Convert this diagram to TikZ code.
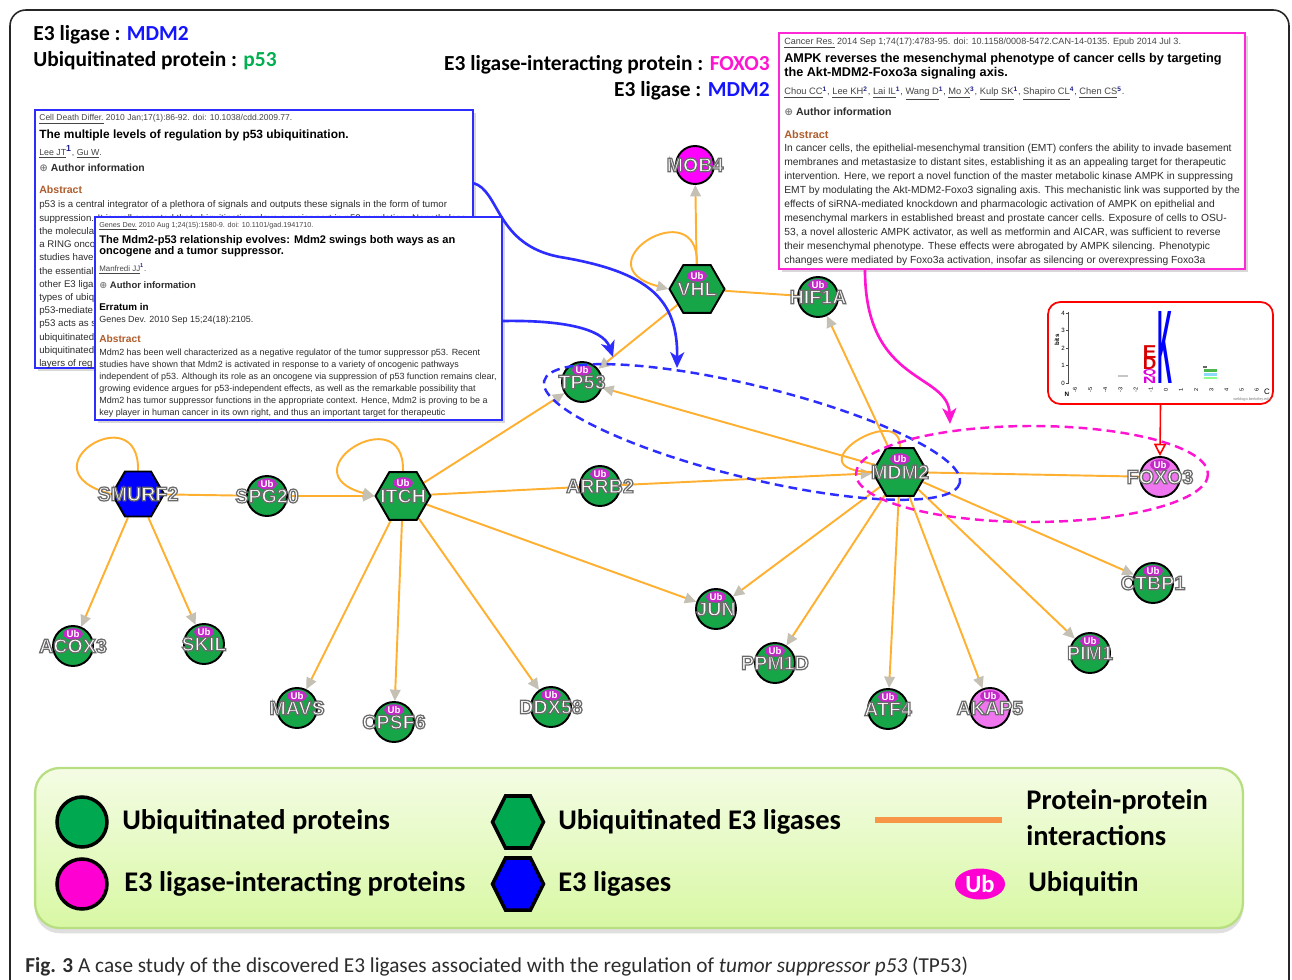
\documentclass[tikz,border=0pt]{standalone}
\usepackage{fontspec}
\setmainfont{Liberation Sans}
\newfontfamily\calfont{Carlito}
\newfontfamily\dvfont{DejaVu Sans}
\usetikzlibrary{shapes.geometric,arrows.meta,shadows,calc}
\definecolor{edgeor}{RGB}{255,176,48}
\definecolor{ngreen}{RGB}{22,166,72}
\definecolor{nmag}{RGB}{255,0,255}
\definecolor{npink}{RGB}{240,118,240}
\definecolor{nblue}{RGB}{0,0,255}
\definecolor{ubmag}{RGB}{196,40,200}
\definecolor{arrgray}{RGB}{196,192,180}
\definecolor{boxblue}{RGB}{45,45,255}
\definecolor{boxmag}{RGB}{255,40,215}
\definecolor{absbrown}{RGB}{176,92,44}
\definecolor{txtgray}{RGB}{45,45,45}
\definecolor{citegray}{RGB}{70,70,70}
\definecolor{supblue}{RGB}{30,30,140}
\definecolor{hblue}{RGB}{20,20,255}
\definecolor{hgreen}{RGB}{0,176,80}
\definecolor{hmag}{RGB}{255,20,210}
\definecolor{lggreen}{RGB}{0,168,80}
\definecolor{lgmag}{RGB}{255,0,210}
\definecolor{lgline}{RGB}{247,150,70}
\definecolor{lgtop}{RGB}{244,252,228}
\definecolor{lgbot}{RGB}{216,248,164}
\definecolor{lgborder}{RGB}{184,222,130}
\definecolor{capgray}{RGB}{45,45,45}
\definecolor{logored}{RGB}{215,0,0}
\definecolor{logomag}{RGB}{220,0,220}
\newcommand{\olab}[1]{\special{pdf:literal direct 2 Tr 0.7 w 0.42 0.42 0.42 RG}#1\special{pdf:literal direct 0 Tr}}
\newcommand{\supn}[1]{\textsuperscript{\textcolor{supblue}{\bfseries #1}}}
\newcommand{\plusicon}{{\dvfont\textcolor{gray}{⊕}}}
\newcommand{\logolet}[3]{\hbox{\textcolor{#1}{\resizebox*{7.7pt}{#2}{\bfseries #3}}}}
\pgfdeclarelayer{background}
\pgfdeclarelayer{front}
\pgfsetlayers{background,main,front}
\begin{document}
\begin{tikzpicture}[x=0.02cm,y=-0.02cm,
  ppi/.style={draw=edgeor,line width=1.1pt},
  ppa/.style={ppi,-{Triangle[length=6.5pt,width=6pt,color=arrgray]}},
  protc/.style={circle,draw=black,line width=1.1pt,minimum size=0.8cm,inner sep=0pt,fill=ngreen},
  hexn/.style={regular polygon,regular polygon sides=6,draw=black,line width=1.1pt,minimum size=1.1cm,inner sep=0pt,fill=ngreen},
  lab/.style={font=\fontsize{11.2}{11}\selectfont\bfseries,text=white,inner sep=0pt},
  ubb/.style={ellipse,fill=ubmag,inner sep=0.3pt,minimum width=0.34cm,minimum height=0.22cm,font=\fontsize{5.5}{5.5}\selectfont\bfseries,text=white},
  absbox/.style={draw,line width=1.1pt,fill=white,inner sep=0pt,drop shadow={opacity=0.3,shadow xshift=1.6pt,shadow yshift=-1.6pt}},
  tx/.style={anchor=base west,inner sep=0pt,text=txtgray},
  hdr/.style={font=\calfont\bfseries\fontsize{12.2}{14}\selectfont,inner sep=0pt,text=black},
  lgtxt/.style={font=\calfont\bfseries\fontsize{16.2}{19}\selectfont,anchor=west,inner sep=0pt,text=black},
  lgshape/.style={draw=black,line width=2pt}
]
\useasboundingbox (0,0) rectangle (1292,980);
\begin{pgfonlayer}{background}
\fill[white] (0,0) rectangle (1292,980);
\end{pgfonlayer}
% outer frame
\draw[line width=0.9pt,black!85,rounded corners=9pt] (10,995) -- (10,10) -- (1289,10) -- (1289,995);

% headers
\node[hdr,anchor=west] (h1) at (33,35) {E3 ligase : \textcolor{hblue}{MDM2}};
\node[hdr,anchor=west] (h2) at (33,61) {Ubiquitinated protein : \textcolor{hgreen}{p53}};
\node[hdr,anchor=east] (h3) at (770,65) {E3 ligase-interacting protein : \textcolor{hmag}{FOXO3}};
\node[hdr,anchor=east] (h4) at (770,91) {E3 ligase : \textcolor{hblue}{MDM2}};

% network nodes
\node[protc] (TP53) at (582,382) {};
\node[protc] (HIF1A) at (818,297) {};
\node[protc] (SPG20) at (267,496) {};
\node[protc] (ARRB2) at (600,486) {};
\node[protc] (JUN) at (716,609) {};
\node[protc,fill=npink] (FOXO3) at (1160,477) {};
\node[protc] (CTBP1) at (1153,583) {};
\node[protc] (PIM1) at (1090,653) {};
\node[protc,fill=npink] (AKAP5) at (990,708) {};
\node[protc] (ATF4) at (888,709) {};
\node[protc] (PPM1D) at (775,663) {};
\node[protc] (DDX58) at (551,707) {};
\node[protc] (CPSF6) at (394,722) {};
\node[protc] (MAVS) at (297,708) {};
\node[protc] (SKIL) at (204,644) {};
\node[protc] (ACOX3) at (73,646) {};
\node[protc,fill=nmag,minimum size=0.76cm] (MOB4) at (695,165) {};
\node[hexn] (VHL) at (697,289) {};
\node[hexn] (ITCH) at (403,496) {};
\node[hexn] (MDM2) at (900,472) {};
\node[hexn,fill=nblue,minimum size=1.04cm] (SMURF2) at (138,494) {};

\foreach \n in {TP53,HIF1A,SPG20,ARRB2,JUN,FOXO3,CTBP1,PIM1,AKAP5,ATF4,PPM1D,DDX58,CPSF6,MAVS,SKIL,ACOX3}
  \node[ubb] (ub\n) at ($(\n)+(0,-12)$) {Ub};
\foreach \n in {VHL,ITCH,MDM2}
  \node[ubb] (ub\n) at ($(\n)+(0,-13)$) {Ub};

% interactions
\begin{pgfonlayer}{background}
\draw[ppi] (SMURF2) -- (SPG20);
\draw[ppa] (SPG20) -- (ITCH);
\draw[ppa] (SMURF2) -- (ACOX3);
\draw[ppa] (SMURF2) -- (SKIL);
\draw[ppi] (SMURF2.north) .. controls (140,395) and (20,470) .. (SMURF2.west);
\draw[ppa] (ITCH.north) .. controls (405,397) and (285,472) .. (ITCH.west);
\draw[ppa] (ITCH) -- (MAVS);
\draw[ppa] (ITCH) -- (CPSF6);
\draw[ppa] (ITCH) -- (DDX58);
\draw[ppa] (ITCH) -- (JUN);
\draw[ppa] (ITCH) -- (TP53);
\draw[ppi] (ITCH) -- (ARRB2);
\draw[ppa] (ARRB2) -- (MDM2);
\draw[ppa] (VHL.north) .. controls (699,190) and (579,265) .. (VHL.west);
\draw[ppa] (VHL) -- (MOB4);
\draw[ppa] (VHL) -- (TP53);
\draw[ppi] (VHL) -- (HIF1A);
\draw[ppa] (MDM2) -- (HIF1A);
\draw[ppa] (MDM2) -- (TP53);
\draw[ppi] (MDM2.north) .. controls (902,400) and (790,470) .. (MDM2.west);
\draw[ppi] (MDM2) -- (FOXO3);
\draw[ppa] (MDM2) -- (JUN);
\draw[ppa] (MDM2) -- (PPM1D);
\draw[ppa] (MDM2) -- (ATF4);
\draw[ppa] (MDM2) -- (AKAP5);
\draw[ppa] (MDM2) -- (PIM1);
\draw[ppa] (MDM2) -- (CTBP1);
\end{pgfonlayer}

% node labels
\begin{pgfonlayer}{front}
\foreach \n in {TP53,HIF1A,SPG20,ARRB2,JUN,FOXO3,CTBP1,PIM1,AKAP5,ATF4,PPM1D,DDX58,CPSF6,MAVS,SKIL,ACOX3,MOB4,VHL,ITCH,MDM2,SMURF2}
  \node[lab] (lb\n) at (\n) {\olab{\n}};
\end{pgfonlayer}

% dashed groupings
\coordinate (bec) at (752,432);
\draw[boxblue,line width=1.4pt,dash pattern=on 5pt off 3pt,rotate around={-13.8:(bec)}] (bec) ellipse [x radius=214,y radius=46];
\coordinate (mec) at (1032,474);
\draw[hmag,line width=1.4pt,dash pattern=on 5pt off 3pt] (mec) ellipse [x radius=176,y radius=48];

% ---------- abstract box 1 ----------
\node[absbox,draw=boxblue,minimum width=8.76cm,minimum height=5.16cm] (box1) at (254,239) {};
\node[tx,text=citegray,font=\fontsize{4.85}{5}\selectfont] (b1c) at (39,121) {\underline{Cell Death Differ.} 2010 Jan;17(1):86-92. doi: 10.1038/cdd.2009.77.};
\node[tx,text=black,font=\fontsize{6.8}{7}\selectfont\bfseries] (b1t) at (39,138) {The multiple levels of regulation by p53 ubiquitination.};
\node[tx,text=citegray,font=\fontsize{5}{5}\selectfont] (b1a) at (39,155) {\underline{Lee JT}\supn{1}, \underline{Gu W}.};
\node[tx,font=\fontsize{5.9}{6}\selectfont\bfseries] (b1i) at (39,172) {\plusicon{} Author information};
\node[tx,text=absbrown,font=\fontsize{6}{6}\selectfont\bfseries] (b1ab) at (39,194) {Abstract};
\foreach \t [count=\i from 0] in {{p53 is a central integrator of a plethora of signals and outputs these signals in the form of tumor},{suppression. It is well accepted that ubiquitination plays a major part in p53 regulation. Nonetheless,},{the molecula},{a RING onco},{studies have},{the essential},{other E3 liga},{types of ubiq},{p53-mediate},{p53 acts as s},{ubiquitinated},{ubiquitinated},{layers of reg}}
  \node[tx,font=\fontsize{5.5}{6}\selectfont] (b1l\i) at (39,{208+13.2*\i}) {\t};

% ---------- abstract box 2 ----------
\node[absbox,draw=boxblue,minimum width=8.14cm,minimum height=4.06cm] (box2) at (298.5,318.5) {};
\node[tx,text=citegray,font=\fontsize{4.1}{5}\selectfont] (b2c) at (99,227) {\underline{Genes Dev.} 2010 Aug 1;24(15):1580-9. doi: 10.1101/gad.1941710.};
\node[tx,text=black,font=\fontsize{6.3}{7}\selectfont\bfseries] (b2t1) at (99,243) {The Mdm2-p53 relationship evolves: Mdm2 swings both ways as an};
\node[tx,text=black,font=\fontsize{6.3}{7}\selectfont\bfseries] (b2t2) at (99,255) {oncogene and a tumor suppressor.};
\node[tx,text=citegray,font=\fontsize{4.5}{5}\selectfont] (b2a) at (99,271) {\underline{Manfredi JJ}\supn{1}.};
\node[tx,font=\fontsize{5.4}{6}\selectfont\bfseries] (b2i) at (99,288) {\plusicon{} Author information};
\node[tx,text=black,font=\fontsize{5.6}{6}\selectfont\bfseries] (b2e) at (99,310) {Erratum in};
\node[tx,font=\fontsize{5.1}{6}\selectfont] (b2g) at (99,322) {Genes Dev. 2010 Sep 15;24(18):2105.};
\node[tx,text=absbrown,font=\fontsize{5.8}{6}\selectfont\bfseries] (b2ab) at (99,342) {Abstract};
\foreach \t [count=\i from 0] in {{Mdm2 has been well characterized as a negative regulator of the tumor suppressor p53. Recent},{studies have shown that Mdm2 is activated in response to a variety of oncogenic pathways},{independent of p53. Although its role as an oncogene via suppression of p53 function remains clear,},{growing evidence argues for p53-independent effects, as well as the remarkable possibility that},{Mdm2 has tumor suppressor functions in the appropriate context. Hence, Mdm2 is proving to be a},{key player in human cancer in its own right, and thus an important target for therapeutic}}
  \node[tx,font=\fontsize{5.1}{6}\selectfont] (b2l\i) at (99,{355+12*\i}) {\t};

% ---------- abstract box 3 ----------
\node[absbox,draw=boxmag,minimum width=9.32cm,minimum height=4.72cm] (box3) at (1012,151) {};
\node[tx,text=citegray,font=\fontsize{5.15}{6}\selectfont] (b3c) at (784,45) {\underline{Cancer Res.} 2014 Sep 1;74(17):4783-95. doi: 10.1158/0008-5472.CAN-14-0135. Epub 2014 Jul 3.};
\node[tx,text=black,font=\fontsize{7.2}{8}\selectfont\bfseries] (b3t1) at (784,63) {AMPK reverses the mesenchymal phenotype of cancer cells by targeting};
\node[tx,text=black,font=\fontsize{7.2}{8}\selectfont\bfseries] (b3t2) at (784,77) {the Akt-MDM2-Foxo3a signaling axis.};
\node[tx,text=citegray,font=\fontsize{5.3}{6}\selectfont] (b3a) at (784,95) {\underline{Chou CC}\supn{1}, \underline{Lee KH}\supn{2}, \underline{Lai IL}\supn{1}, \underline{Wang D}\supn{1}, \underline{Mo X}\supn{3}, \underline{Kulp SK}\supn{1}, \underline{Shapiro CL}\supn{4}, \underline{Chen CS}\supn{5}.};
\node[tx,font=\fontsize{6}{6}\selectfont\bfseries] (b3i) at (784,115) {\plusicon{} Author information};
\node[tx,text=absbrown,font=\fontsize{6.2}{7}\selectfont\bfseries] (b3ab) at (784,138) {Abstract};
\foreach \t [count=\i from 0] in {{In cancer cells, the epithelial-mesenchymal transition (EMT) confers the ability to invade basement},{membranes and metastasize to distant sites, establishing it as an appealing target for therapeutic},{intervention. Here, we report a novel function of the master metabolic kinase AMPK in suppressing},{EMT by modulating the Akt-MDM2-Foxo3 signaling axis. This mechanistic link was supported by the},{effects of siRNA-mediated knockdown and pharmacologic activation of AMPK on epithelial and},{mesenchymal markers in established breast and prostate cancer cells. Exposure of cells to OSU-},{53, a novel allosteric AMPK activator, as well as metformin and AICAR, was sufficient to reverse},{their mesenchymal phenotype. These effects were abrogated by AMPK silencing. Phenotypic},{changes were mediated by Foxo3a activation, insofar as silencing or overexpressing Foxo3a}}
  \node[tx,font=\fontsize{5.85}{6}\selectfont] (b3l\i) at (784,{152+13.9*\i}) {\t};

% pointer arrows
\coordinate (ba0) at (473,183);
\coordinate (ba1) at (677,368);
\draw[boxblue,line width=1.5pt,-{Stealth[length=9pt,width=8pt,inset=2.5pt]}] (ba0) .. controls (500,190) and (495,245) .. (560,257) .. controls (650,272) and (678,300) .. (ba1);
\coordinate (bb0) at (503,321);
\coordinate (bb1) at (613,357);
\draw[boxblue,line width=1.5pt,-{Stealth[length=9pt,width=8pt,inset=2.5pt]}] (bb0) .. controls (560,320) and (603,328) .. (bb1);
\coordinate (bm0) at (865,270);
\coordinate (bm1) at (950,424);
\draw[hmag,line width=1.5pt,-{Stealth[length=9pt,width=8pt,inset=2.5pt]}] (bm0) .. controls (865,385) and (948,372) .. (bm1);

% ---------- sequence logo ----------
\node[draw=red,line width=1pt,rounded corners=7pt,fill=white,minimum width=4.5cm,minimum height=2.04cm,inner sep=0pt] (logo) at (1160.5,353) {};
\draw[red,line width=0.9pt,-{Triangle[open,length=7pt,width=7pt]}] (logo.south) -- (FOXO3.north);
\draw[black!70,line width=0.4pt] (1068,312) -- (1068,384);
\foreach \k in {0,...,4} {
  \draw[black!70,line width=0.3pt] (1066,{383-17.5*\k}) -- (1068,{383-17.5*\k});
  \node[inner sep=0pt,font=\fontsize{3.5}{4}\selectfont] (ly\k) at (1063,{383-17.5*\k}) {\k};
}
\node[rotate=90,inner sep=0pt,font=\fontsize{3.5}{4}\selectfont\bfseries] (lbits) at (1057,340) {bits};
\foreach \p [count=\j from 0] in {-6,-5,-4,-3,-2,-1,0,1,2,3,4,5,6}
  \node[rotate=90,inner sep=0pt,font=\fontsize{3.2}{4}\selectfont] (lx\j) at ({1075+15.15*\j},390) {\p};
\node[inner sep=0pt,font=\fontsize{3.6}{4}\selectfont\bfseries] (lN) at (1067,394) {N};
\node[inner sep=0pt,font=\fontsize{4.5}{5}\selectfont] (lC) at (1267,392) {C};
\node[inner sep=0pt,font=\fontsize{2.2}{3}\selectfont,text=gray] (lweb) at (1252,399) {weblogo.berkeley.edu};
\node[inner sep=0pt,anchor=south west,text=blue] (lK) at (1157.5,384) {\resizebox*{8.5pt}{41pt}{\bfseries K}};
\node[inner sep=0pt,anchor=south west] (lstack) at (1142.5,384) {\vbox{\offinterlineskip\logolet{logored}{7.3pt}{E}\logolet{logored}{6.6pt}{D}\logolet{logomag}{4.3pt}{Q}\logolet{logomag}{3.6pt}{N}}};
\draw[gray!45,line width=0.8pt] (1118,376) -- (1128,376);
\fill[black!60] (1203,366) rectangle (1207,367.5);
\fill[green!60!black!70] (1204,369) rectangle (1217,372);
\fill[cyan!45] (1204,373) rectangle (1217,376);
\fill[green!45] (1204,377) rectangle (1217,379);

% ---------- legend ----------
\node[draw=lgborder,line width=1.3pt,rounded corners=14pt,top color=lgtop,bottom color=lgbot,minimum width=24.16cm,minimum height=3.2cm,inner sep=0pt,drop shadow={opacity=0.25,shadow xshift=0pt,shadow yshift=-3pt}] (legend) at (639,848) {};
\node[circle,lgshape,fill=lggreen,minimum size=1.0cm,inner sep=0pt] (lg1) at (82,822) {};
\node[circle,lgshape,fill=lgmag,minimum size=1.0cm,inner sep=0pt] (lg2) at (82,884) {};
\coordinate (lg3) at (518,822);
\coordinate (lg4) at (518,884);
\draw[lgshape,fill=lggreen] (lg3) ++(-25.5,0) -- ++(13,-26) -- ++(25,0) -- ++(13,26) -- ++(-13,26) -- ++(-25,0) -- cycle;
\draw[lgshape,fill=nblue] (lg4) ++(-25.5,0) -- ++(13,-26) -- ++(25,0) -- ++(13,26) -- ++(-13,26) -- ++(-25,0) -- cycle;
\coordinate (ll1) at (875,820);
\coordinate (ll2) at (1002,820);
\draw[lgline,line width=3.5pt] (ll1) -- (ll2);
\node[ellipse,fill=lgmag,minimum width=1cm,minimum height=0.62cm,inner sep=0pt,text=white,font=\calfont\bfseries\fontsize{14}{14}\selectfont] (lgub) at (980,884) {Ub};
\node[lgtxt] (lt1) at (122,822) {Ubiquitinated proteins};
\node[lgtxt] (lt2) at (124,884) {E3 ligase-interacting proteins};
\node[lgtxt] (lt3) at (558,822) {Ubiquitinated E3 ligases};
\node[lgtxt] (lt4) at (558,884) {E3 ligases};
\node[lgtxt] (lt5) at (1026,802) {Protein-protein};
\node[lgtxt] (lt6) at (1026,836) {interactions};
\node[lgtxt] (lt7) at (1028,884) {Ubiquitin};

% caption
\node[anchor=base west,inner sep=0pt,font=\calfont\fontsize{12.1}{14}\selectfont,text=capgray] (cap) at (25,972) {\textbf{Fig. 3} A case study of the discovered E3 ligases associated with the regulation of \textit{tumor suppressor p53} (TP53)};
\end{tikzpicture}
\end{document}
